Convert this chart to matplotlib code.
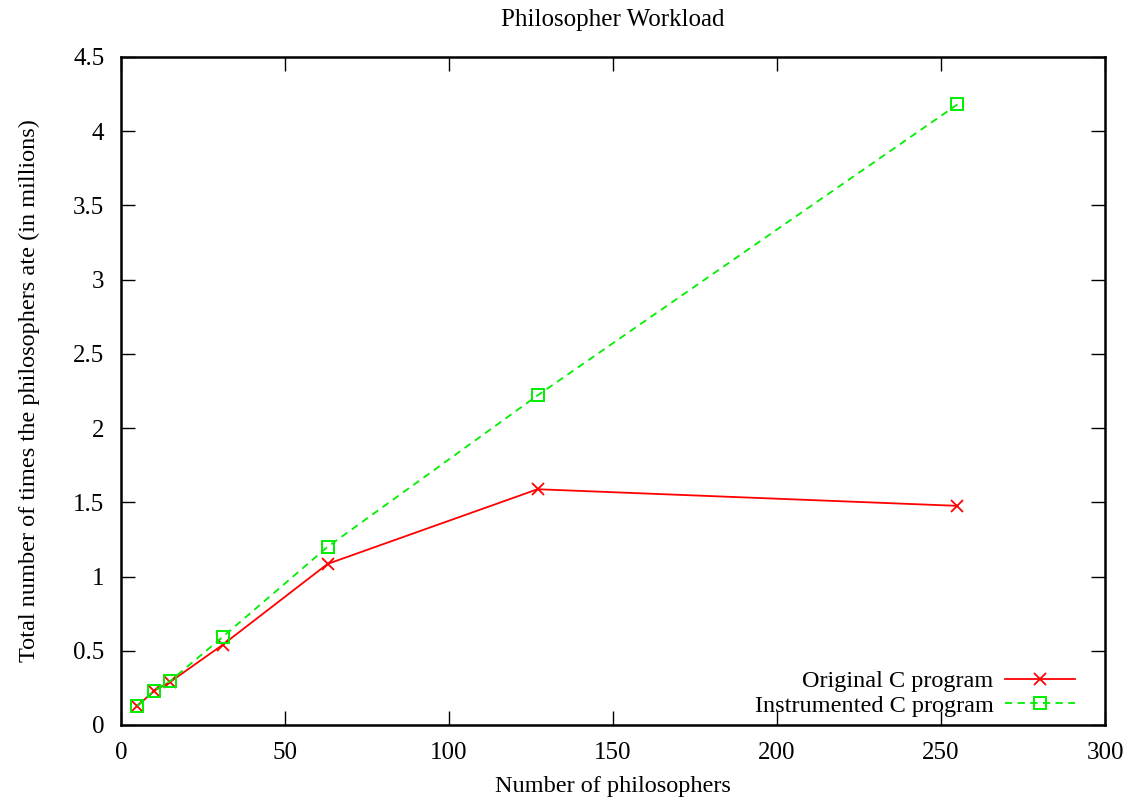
import matplotlib
matplotlib.use("Agg")
import matplotlib.pyplot as plt

# data
philosophers = [5, 10, 15, 31, 63, 127, 255]
original_c = [0.128, 0.229, 0.290, 0.540, 1.085, 1.588, 1.476]
instrumented_c = [0.128, 0.229, 0.296, 0.593, 1.200, 2.220, 4.180]

plt.rcParams["font.family"] = ["Liberation Serif", "DejaVu Serif"]
plt.rcParams["font.size"] = 17.5

fig = plt.figure(figsize=(11.35, 8), dpi=100)
ax = fig.add_axes([0.1066, 0.0938, 0.8670, 0.8350])

ax.plot(philosophers, original_c, color="#ff0000", linewidth=1.3,
        marker="x", markersize=8, markeredgewidth=1.3,
        label="Original C program")
ax.plot(philosophers, instrumented_c, color="#00ee00", linewidth=1.3,
        linestyle=(0, (4, 3)), marker="s", markersize=8,
        markerfacecolor="none", markeredgewidth=1.4,
        label="Instrumented C program")

ax.set_xlim(0, 300)
ax.set_ylim(0, 4.5)
ax.set_xticks(range(0, 301, 50))
ax.set_yticks([0, 0.5, 1, 1.5, 2, 2.5, 3, 3.5, 4, 4.5])
ax.set_yticklabels(["0", "0.5", "1", "1.5", "2", "2.5", "3", "3.5", "4", "4.5"])
ax.tick_params(direction="in", top=True, right=True, length=10, width=1.0,
               labelsize=18)
ax.tick_params(axis="y", pad=12)
ax.tick_params(axis="x", pad=12)
for s in ax.spines.values():
    s.set_linewidth(1.8)

ax.set_title("Philosopher Workload", fontsize=18, pad=22)
ax.set_xlabel("Number of philosophers", labelpad=9)
ax.set_ylabel("Total number of times the philosophers ate (in millions)",
              labelpad=24)

leg = ax.legend(loc="lower right", bbox_to_anchor=(0.9695, 0.012),
                frameon=False, markerfirst=False, handlelength=2.9,
                borderaxespad=0, borderpad=0, labelspacing=0.12,
                handletextpad=0.45)
for t in leg.get_texts():
    t.set_ha("right")
leg._legend_box.align = "right"

fig.savefig("out.png", dpi=100)
